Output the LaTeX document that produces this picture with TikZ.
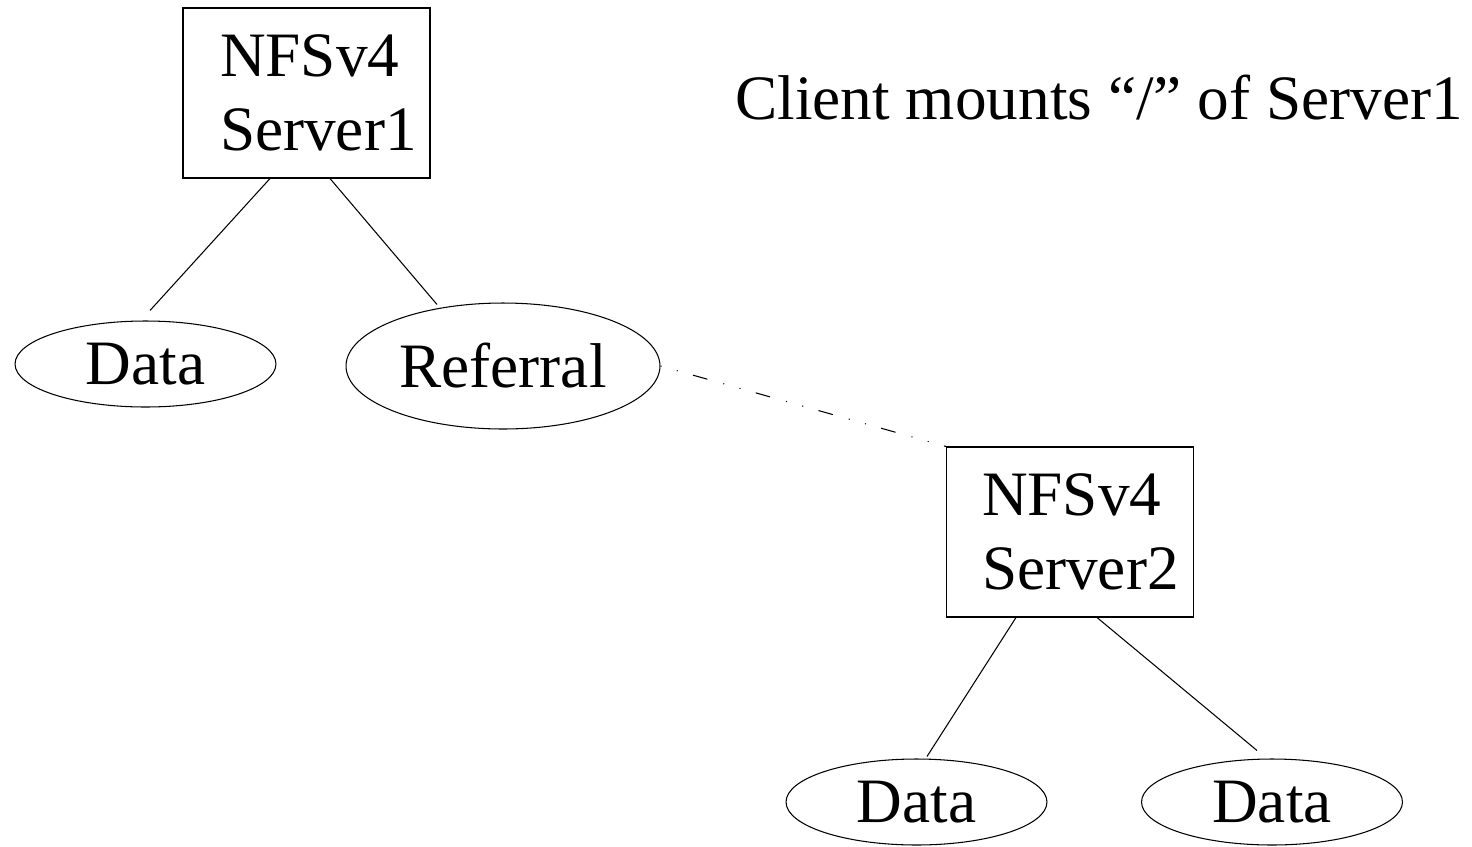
\documentclass[tikz,border=0pt]{standalone}
\usepackage{fontspec}
\setmainfont{Liberation Serif}
\usetikzlibrary{shapes.geometric,calc}

\begin{document}
\begin{tikzpicture}[x=0.02cm,y=-0.02cm,line width=0.6pt]
  \tikzstyle{every node}=[font=\fontsize{36}{42.5}\selectfont]
  \tikzstyle{server}=[draw,align=left,minimum width=4.94cm,minimum height=3.4cm,inner sep=0pt]
  \tikzstyle{leaf}=[draw,shape=ellipse,minimum width=5.22cm,minimum height=1.72cm,inner sep=0pt]
  \tikzstyle{referral}=[dash pattern=on 8.5pt off 9.4pt on 0.6pt off 9pt on 0.6pt off 9pt,dash phase=17.9pt]
  \useasboundingbox (0,0) rectangle (1472,846);
  % first server and its tree
  \path (306.5,93) node[server,text width=3.46cm] (S1) {NFSv4\\Server1};
\path (145.5,364) node[leaf] (D1) {Data};
\path (503,366) node[leaf,minimum width=6.28cm,minimum height=2.52cm] (R) {Referral};
  % second server and its tree
  \path (1070,532) node[server,text width=3.52cm] (S2) {NFSv4\\Server2};
\path (916.5,802) node[leaf] (D2) {Data};
\path (1272,802) node[leaf] (D3) {Data};
  \path (735,119) node[anchor=base west,inner sep=0pt] (mount) {Client mounts “/” of Server1};
  \draw ($(S1.south)+(-36.5,0)$) -- ($(D1.north)+(4.5,-10)$)
        ($(S1.south)+(23.5,0)$) -- ($(R.north)+(-66,2)$)
 ($(S2.south)+(-54,0)$) -- ($(D2.north)+(10.5,-2)$)
        ($(S2.south)+(27,0)$) -- ($(D3.north)+(-15,-8)$);
  \draw[referral] (R.east) -- (S2.north west);
\end{tikzpicture}
\end{document}
